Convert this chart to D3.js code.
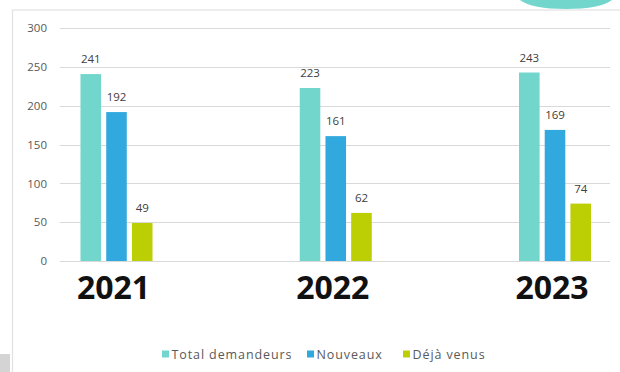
<!DOCTYPE html>
<html><head><meta charset="utf-8">
<script src="https://cdn.jsdelivr.net/npm/d3@7"></script>
<style>
html,body{margin:0;padding:0;background:#fff;}
svg{display:block;}
</style></head>
<body>
<svg id="c" width="620" height="372"></svg>
<script>
const years = ["2021", "2022", "2023"];
const seriesNames = ["Total demandeurs", "Nouveaux", "Déjà venus"];
const totalDemandeurs = [241, 223, 243];
const nouveaux = [192, 161, 169];
const dejaVenus = [49, 62, 74];
const yTicks = [0, 50, 100, 150, 200, 250, 300];
const colors = ["#72d6cc", "#32a9de", "#bccf05"];

const seriesValues = [totalDemandeurs, nouveaux, dejaVenus];
const svg = d3.select("#c");

// frame remnants of screenshot
svg.append("line").attr("x1", 12).attr("x2", 620).attr("y1", 10).attr("y2", 10)
  .attr("stroke", "#dcdcdc").attr("stroke-width", 1.2);
svg.append("line").attr("x1", 12.5).attr("x2", 12.5).attr("y1", 10).attr("y2", 372)
  .attr("stroke", "#e2e2e2").attr("stroke-width", 1.2);
svg.append("path").attr("d", "M520,0 L612,0 Q600,9 566,9 Q532,9 520,0 Z").attr("fill", "#72d6cc");
svg.append("rect").attr("x", 0).attr("y", 354).attr("width", 10).attr("height", 18).attr("fill", "#d4d4d4");

const y = d3.scaleLinear().domain([0, 300]).range([261, 28.3]);
const x0 = d3.scalePoint().domain(years).range([116.5, 555]);
const x1 = d3.scaleBand().domain(d3.range(3)).range([-36, 36]).paddingInner(0.2).paddingOuter(0);

// gridlines
svg.append("g").selectAll("line").data(yTicks).join("line")
  .attr("x1", 60).attr("x2", 610)
  .attr("y1", d => Math.round(y(d)) + 0.5).attr("y2", d => Math.round(y(d)) + 0.5)
  .attr("stroke", "#d9d9d9").attr("stroke-width", 1);

// y axis labels
const yAxis = d3.axisLeft(y).tickValues(yTicks).tickSize(0).tickPadding(0);
const gy = svg.append("g").attr("transform", "translate(47,0)").call(yAxis);
gy.select(".domain").remove();
gy.selectAll("text").attr("font-family", "'Open Sans', sans-serif").attr("font-size", 11.5)
  .attr("fill", "#595959");

// bars
const groups = svg.append("g").selectAll("g").data(years).join("g")
  .attr("transform", d => `translate(${x0(d)},0)`);
groups.each(function(yr, gi) {
  const g = d3.select(this);
  seriesValues.forEach((vals, si) => {
    const v = vals[gi];
    g.append("rect").attr("x", x1(si)).attr("width", x1.bandwidth())
      .attr("y", y(v)).attr("height", y(0) - y(v)).attr("fill", colors[si]);
    g.append("text").attr("x", x1(si) + x1.bandwidth() / 2).attr("y", y(v) - 11)
      .attr("text-anchor", "middle").attr("font-family", "'Open Sans', sans-serif")
      .attr("font-size", 11.5).attr("fill", "#404040").text(v);
  });
});

// big year labels
svg.append("g").selectAll("text").data(years).join("text")
  .attr("x", d => x0(d) - 3).attr("y", 299)
  .attr("text-anchor", "middle").attr("font-family", "'Open Sans', sans-serif")
  .attr("font-weight", 700).attr("font-size", 32).attr("fill", "#111").text(d => d);

// legend
const legendX = [162, 307, 403];
const lg = svg.append("g").selectAll("g").data(seriesNames).join("g")
  .attr("transform", (d, i) => `translate(${legendX[i]},354)`);
lg.append("rect").attr("x", 0).attr("y", -3.5).attr("width", 7).attr("height", 7)
  .attr("fill", (d, i) => colors[i]);
lg.append("text").attr("x", 9.5).attr("y", 4.5).attr("font-family", "'Open Sans', sans-serif")
  .attr("font-size", 12.5).attr("letter-spacing", 0.9).attr("fill", "#595959").text(d => d);
</script>
</body></html>
